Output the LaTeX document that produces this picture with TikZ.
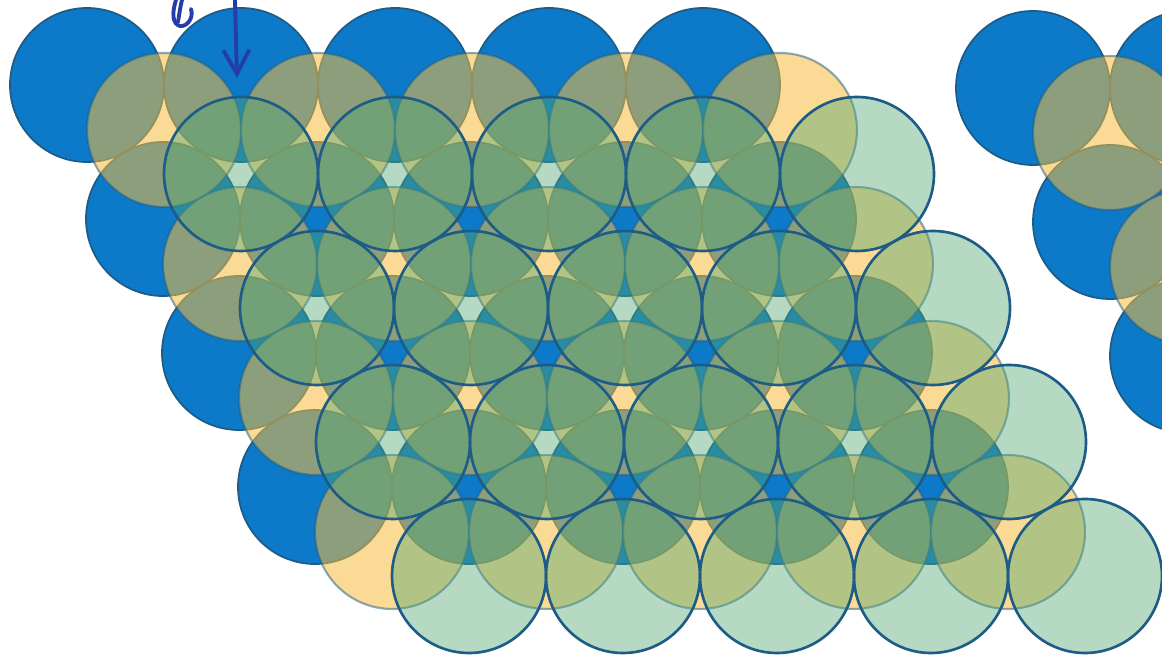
\documentclass[tikz,border=0pt]{standalone}
\usepackage{tikz}
\usetikzlibrary{arrows.meta}
\definecolor{ballblue}{RGB}{12,122,200}
\definecolor{ballrim}{RGB}{28,92,135}
\definecolor{ballyellow}{RGB}{246,188,60}
\definecolor{ballgreen}{RGB}{80,165,115}
\definecolor{inkblue}{RGB}{35,62,170}
\tikzstyle{bottomball} = [fill=ballblue, draw=ballrim, line width=0.5pt]
\tikzstyle{middleball} = [fill=ballyellow, fill opacity=0.55, draw=ballrim, draw opacity=0.5, line width=0.6pt]
\tikzstyle{topball} = [fill=ballgreen, fill opacity=0.42, draw=ballrim, line width=0.75pt]
\tikzstyle{pen} = [draw=inkblue, line width=1.1pt, line cap=round, line join=round]

\begin{document}
\begin{tikzpicture}[x=0.1mm, y=-0.1mm]
  \useasboundingbox (0,0) rectangle (1162,670);

  % layer A (blue)
  \foreach \k in {0,...,3}
    \foreach \j in {0,...,4}
      \draw[bottomball] ({87+154*\j+76*\k},{85+134*\k}) circle[radius=7.7mm];
  % layer B (yellow)
  \foreach \k in {0,...,3}
    \foreach \j in {0,...,4}
      \draw[middleball] ({164+154*\j+76*\k},{130+134*\k}) circle[radius=7.7mm];
  % layer C (green)
  \foreach \k in {0,...,3}
    \foreach \j in {0,...,4}
      \draw[topball] ({241+154*\j+76*\k},{174+134*\k}) circle[radius=7.7mm];

  % second stack on the right
  \foreach \p in {(1033,88),(1187,88),(1110,222),(1187,356)}
    \draw[bottomball] \p circle[radius=7.7mm];
  \foreach \p in {(1110,133),(1187,267)}
    \draw[middleball] \p circle[radius=7.7mm];

  % pen marks
  \coordinate (pentop) at (235,0);
  \coordinate (pentip) at (237,78);
  \draw[pen, -{Straight Barb[length=2.4mm, width=2.6mm]}] (pentop) -- (pentip);
  \draw[pen] (176,0) .. controls (172,12) and (172,24) .. (180,26)
    .. controls (187,27) and (194,18) .. (191,9);
  \draw[pen] (182,0) .. controls (180,8) and (179,16) .. (178,22);
\end{tikzpicture}
\end{document}
